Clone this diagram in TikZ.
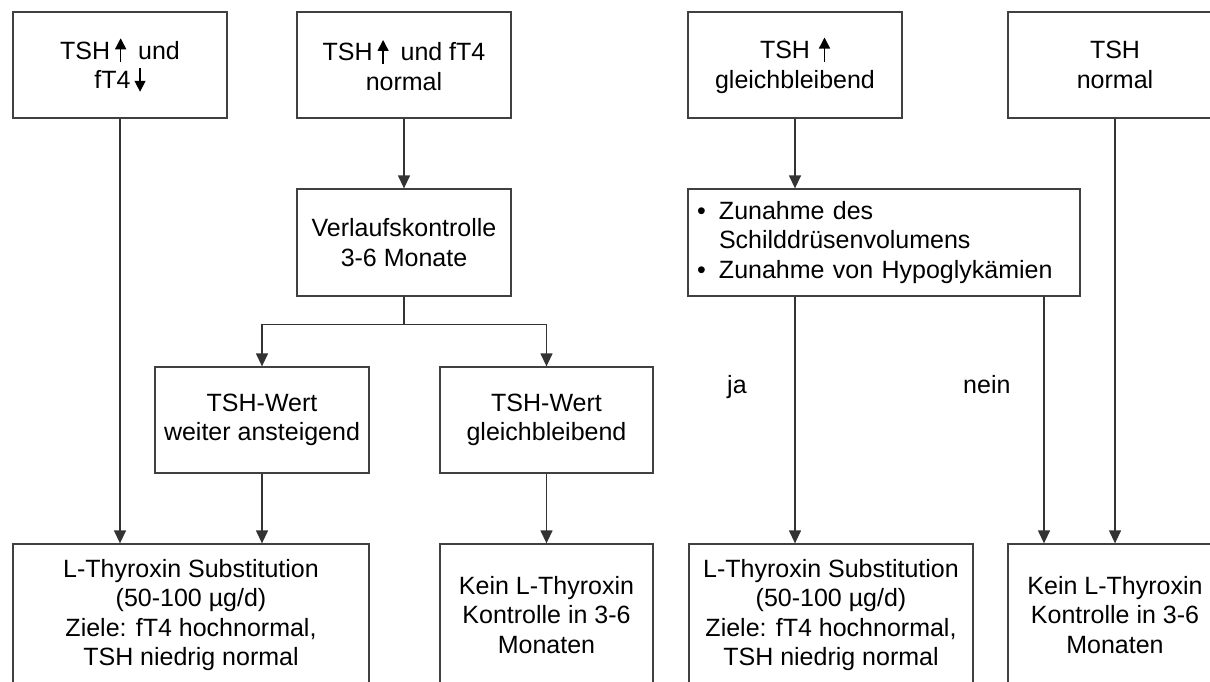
\documentclass[tikz,border=0pt]{standalone}
\usepackage{fontspec}
\setmainfont{Liberation Sans}
\usetikzlibrary{arrows.meta,calc}
\newcommand{\upar}{\tikz[baseline=0pt]\draw[black,line width=1.4pt,-{Triangle[width=11pt,length=11pt]}] (0pt,-3pt)--(0pt,21pt);}
\newcommand{\dnar}{\tikz[baseline=0pt]\draw[black,line width=1.4pt,-{Triangle[width=11pt,length=11pt]}] (0pt,21pt)--(0pt,-3pt);}
\tikzset{
  box/.style={draw=black!75, line width=1.3pt, inner sep=0pt, align=center,
    minimum width=214pt, minimum height=106pt,
    font=\fontsize{25pt}{29.5pt}\selectfont},
  lbl/.style={inner sep=0pt, anchor=base west, font=\fontsize{25pt}{29.5pt}\selectfont},
  arr/.style={draw=black!80, line width=1.3pt, -{Triangle[width=12pt,length=13pt]}},
  ln/.style={draw=black!80, line width=1.3pt}
}
\begin{document}
\begin{tikzpicture}[x=1pt,y=-1pt]
\useasboundingbox (0,0) rectangle (1210,681);
\clip (0,0) rectangle (1210,681);
\fill[white] (0,0) rectangle (1210,681);
% top row
\node[box] (b1) at (120,65) {TSH\hspace{5pt}\upar\hspace{12pt}und\\fT4\hspace{4pt}\dnar};
\node[box] (b2) at (404,65) {TSH\hspace{5pt}\upar\hspace{12pt}und fT4\\normal};
\node[box] (b3) at (795,65) {TSH\hspace{9pt}\upar\\gleichbleibend};
\node[box] (b4) at (1115,65) {TSH\\normal};
% second row
\node[box, minimum height=107pt] (verl) at (404,242.5) {Verlaufskontrolle\\3-6 Monate};
\node[box, minimum width=392pt, minimum height=107pt, align=left, text width=374pt, inner xsep=9pt] (bul) at (884,242.5)
  {\makebox[22pt][l]{•}Zunahme des\\\hspace*{22pt}Schilddrüsenvolumens\\\makebox[22pt][l]{•}Zunahme von Hypoglykämien};
% third row
\node[box] (weiter) at (262,420) {TSH-Wert\\weiter ansteigend};
\node[box, minimum width=213pt] (gleich) at (546.5,420) {TSH-Wert\\gleichbleibend};
% bottom row
\node[box, minimum width=356pt, minimum height=142pt] (B1) at (191,615) {L-Thyroxin Substitution\\(50-100 µg/d)\\Ziele: fT4 hochnormal,\\TSH niedrig normal};
\node[box, minimum width=213pt, minimum height=142pt] (B2) at (546.5,615) {Kein L-Thyroxin\\Kontrolle in 3-6\\Monaten};
\node[box, minimum width=284pt, minimum height=142pt] (B3) at (831,615) {L-Thyroxin Substitution\\(50-100 µg/d)\\Ziele: fT4 hochnormal,\\TSH niedrig normal};
\node[box, minimum height=142pt] (B4) at (1115,615) {Kein L-Thyroxin\\Kontrolle in 3-6\\Monaten};
% labels
\node[lbl] (ja) at (727,393) {ja};
\node[lbl] (nein) at (963,393) {nein};
% connectors
\draw[arr] (b1.south) -- (b1.south |- B1.north);
\draw[arr] (b2.south) -- (verl.north);
\coordinate (split) at ($(verl.south)+(0,28)$);
\draw[ln] (verl.south) -- (split);
\draw[arr] (split) -| (weiter.north);
\draw[arr] (split) -| (gleich.north);
\draw[arr] (weiter.south) -- (weiter.south |- B1.north);
\draw[arr] (gleich.south) -- (gleich.south |- B2.north);
\draw[arr] (b3.south) -- (b3.south |- bul.north);
\draw[arr] (b3.south |- bul.south) -- (b3.south |- B3.north);
\coordinate (neinout) at (1044,0);
\draw[arr] (neinout |- bul.south) -- (neinout |- B4.north);
\draw[arr] (b4.south) -- (B4.north);
\end{tikzpicture}
\end{document}
